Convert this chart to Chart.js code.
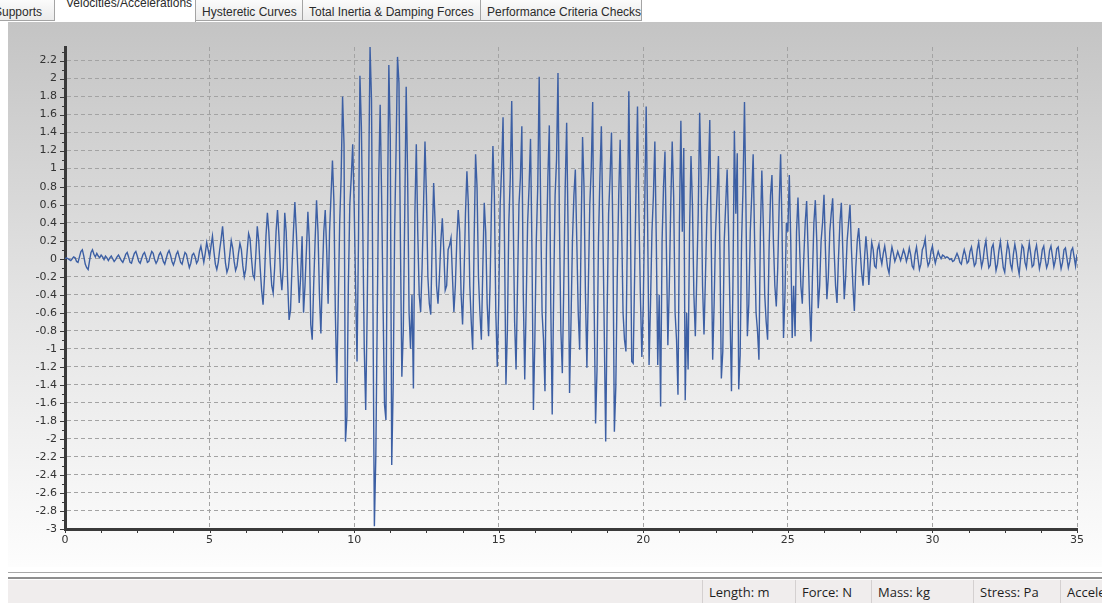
<!DOCTYPE html>
<html>
<head>
<meta charset="utf-8">
<script src="https://cdn.jsdelivr.net/npm/chart.js@4.4.1/dist/chart.umd.min.js"></script>
<style>
  html, body { margin: 0; padding: 0; width: 1102px; height: 603px; overflow: hidden; background: #fff; font-family: "Liberation Sans", Arial, sans-serif; }
  #tabs { position: absolute; left: 0; top: 0; width: 1102px; height: 22px; background: #fff; }
  .tab { position: absolute; top: 0; height: 21px; box-sizing: border-box; border-right: 1px solid #a4a4a4; border-bottom: 1px solid #a4a4a4;
         background: linear-gradient(#fbfbfb, #ebebeb); font-size: 12px; color: #2b2b2b; line-height: 25px; white-space: nowrap; overflow: hidden; padding-left: 6px; }
  .tab.active { background: #fff; line-height: 7px; border-bottom: none; height: 22px; }
  #panel { position: absolute; left: 8px; top: 22px; width: 1094px; height: 545px; background: linear-gradient(#c4c4c4, #e3e3e3 50%, #fdfdfd); }
  #chart { position: absolute; left: 0; top: 0; }
  #sep1 { position: absolute; left: 8px; top: 572px; width: 1094px; height: 1px; background: #a8a8a8; }
  #sep2 { position: absolute; left: 8px; top: 577px; width: 1094px; height: 2px; background: #8e8e8e; }
  #status { position: absolute; left: 8px; top: 580px; width: 1094px; height: 23px; background: #f0eded; font-family: "Open Sans", sans-serif; font-size: 13px; color: #1e1e1e; }
  .cell { position: absolute; top: 0; height: 23px; line-height: 24px; border-left: 1px solid #d4d0d0; padding-left: 6px; white-space: nowrap; overflow: hidden; }
</style>
</head>
<body>
<div id="tabs">
  <div class="tab" style="left:-12px;width:67px;">Supports</div>
  <div class="tab active" style="left:55px;width:141px;padding-left:11px;">Velocities/Accelerations</div>
  <div class="tab" style="left:196px;width:107px;">Hysteretic Curves</div>
  <div class="tab" style="left:303px;width:178px;">Total Inertia &amp; Damping Forces</div>
  <div class="tab" style="left:481px;width:161px;">Performance Criteria Checks</div>
</div>
<div id="panel"><canvas id="chart" width="1094" height="545"></canvas></div>
<div id="sep1"></div>
<div id="sep2"></div>
<div id="status">
  <div class="cell" style="left:694px;width:76px;">Length: m</div>
  <div class="cell" style="left:787px;width:76px;">Force: N</div>
  <div class="cell" style="left:863px;width:96px;">Mass: kg</div>
  <div class="cell" style="left:965px;width:87px;">Stress: Pa</div>
  <div class="cell" style="left:1052px;width:50px;">Acceleration</div>
</div>

<script>
// sampled acceleration trace, dt = 0.05 s, one array per 5 s block
const dt = 0.05;

const accel00 = [
  0, 0.01, 0, -0.01, -0.02, 0, 0.02, 0.01, -0.03, -0.04,
  0.02, 0.08, 0.1, 0.03, -0.06, -0.1, -0.12, -0.02, 0.07, 0.1,
  0.05, 0.02, 0.06, 0.03, 0.01, 0.04, 0.02, -0.01, 0.03, 0.01,
  -0.02, 0.01, 0.03, 0, -0.03, -0.01, 0.02, 0.04, 0.01, -0.02,
  -0.04, 0, 0.05, 0.07, 0.02, -0.04, -0.05, 0.01, 0.06, 0.08,
  0.03, -0.03, -0.05, 0, 0.05, 0.07, 0.02, -0.04, -0.03, 0.03,
  0.08, 0.06, -0.01, -0.05, -0.02, 0.04, 0.07, 0.03, -0.03, -0.06,
  0, 0.06, 0.09, 0.04, -0.03, -0.07, -0.02, 0.05, 0.08, 0.02,
  -0.04, -0.06, 0.01, 0.07, 0.05, -0.03, -0.1, -0.05, 0.04, 0.06,
  0.02, -0.05, -0.02, 0.08, 0.14, 0.05, -0.04, 0.06, 0.18, 0.1
];
const accel05 = [
  0.02, 0.14, 0.25, 0.08, -0.06, -0.12, -0.04, 0.1, 0.22, 0.36,
  0.15, -0.05, -0.15, -0.1, 0.05, 0.2, 0.12, -0.03, -0.13, -0.08,
  0.06, 0.17, 0.1, -0.08, -0.2, -0.12, 0.08, 0.28, 0.22, 0.0,
  -0.18, -0.22, 0.05, 0.36, 0.2, -0.1, -0.35, -0.51, -0.2, 0.25,
  0.51, 0.3, -0.05, -0.3, -0.38, -0.1, 0.3, 0.54, 0.25, -0.15,
  -0.35, -0.1, 0.51, 0.3, -0.25, -0.68, -0.57, -0.1, 0.3, 0.63,
  0.3, -0.1, -0.49, -0.2, 0.25, -0.6, -0.3, 0.1, 0.52, 0.2,
  -0.73, -0.9, -0.3, 0.2, 0.65, 0.3, -0.4, -0.83, -0.2, 0.3,
  0.54, 0.1, -0.5, 0.3, 0.7, 1.09, 0.64, -0.6, -1.38, -0.5,
  0.4, 0.9, 1.8, 1.27, -2.03, -1.75, -0.3, 0.6, 0.9, 1.27
];
const accel10 = [
  0.6, -0.3, -1.14, 0.2, 2.03, 1.47, 0.3, -1.0, -1.68, -0.6,
  0.8, 2.35, 1.77, -0.5, -2.97, -2.18, -0.6, 0.9, 1.71, 0.7,
  -0.5, -1.62, -1.79, 0.4, 2.15, 1.34, -2.29, -1.42, 0.3, 1.2,
  2.24, 1.95, 0.2, -1.31, -0.8, 0.5, 1.91, 0.9, -0.6, -1.0,
  -0.4, -1.44, 0.5, 1.27, 0.3, -0.4, -0.59, -0.1, 0.6, 1.3,
  0.7, -0.2, -0.5, -0.62, 0.2, 0.84, 0.4, -0.3, -0.5, -0.2,
  0.2, 0.45, 0.1, -0.35, -0.3, 0.1, 0.15, 0.23, -0.2, -0.59,
  -0.3, 0.2, 0.54, 0.3, -0.4, -0.73, -0.2, 0.5, 0.97, 0.6,
  -0.3, -0.7, -1.01, 0.2, 1.16, 0.8, -0.2, -0.6, -0.9, -0.1,
  0.62, 0.3, -0.5, -0.86, -0.3, 0.6, 1.25, 0.7, -0.6, -1.2
];
const accel15 = [
  -0.5, 0.6, 1.0, 1.57, 0.2, -1.4, -0.8, 0.4, 0.9, 1.75,
  0.5, -0.7, -1.23, -0.3, 0.6, 0.9, 1.47, -0.4, -1.34, -0.5,
  0.4, 0.8, 1.33, 0.1, -1.68, -0.9, 0.2, 0.8, 2.02, 0.6,
  -0.6, -0.9, -1.47, 0.1, 0.9, 1.48, -0.5, -1.73, -0.4, 0.7,
  1.1, 2.06, 0.4, -0.8, -1.27, -0.3, 0.8, 1.51, 0.3, -1.49,
  -0.7, 0.2, 0.7, 0.99, 0.2, -0.6, -1.01, 0.3, 1.35, 0.8,
  -0.4, -1.21, -0.3, 0.6, 1.0, 1.74, -0.5, -1.83, -1.23, 0.2,
  0.9, 1.47, 0.4, -0.8, -2.03, -0.6, 0.5, 0.9, 1.4, 0.2,
  -1.92, -1.42, -0.2, 0.7, 1.32, 0.4, -0.6, -0.9, -1.03, 0.3,
  1.86, 0.6, -1.14, -1.16, -0.2, 0.8, 1.69, 0.5, -0.4, -1.09
];
const accel20 = [
  -0.5, 0.6, 1.69, 0.4, -1.18, -0.5, 0.3, 0.7, 1.3, 0.2,
  -1.18, -0.4, -1.64, 0.2, 0.8, 1.19, 0.1, -0.96, -0.3, 0.6,
  1.3, 0.7, -0.6, -0.9, -1.51, 0.4, 1.53, 0.3, 1.23, -1.57,
  -0.6, -1.23, 0.3, 1.14, 0.6, -0.4, -0.86, -0.2, 0.5, 1.62,
  0.9, -0.3, -0.84, -0.2, 0.5, 0.9, 1.54, 0.2, -1.12, -0.5,
  0.3, 0.7, 1.14, 0.1, -1.33, -1.03, 0.2, 0.6, 0.99, 0.3,
  -0.6, -1.47, -0.3, 1.42, 0.5, 1.17, -1.45, -1.07, 0.2, 0.8,
  1.74, 0.6, -0.86, -0.5, 0.3, 0.7, 1.16, 0.2, -0.6, -0.8,
  -1.12, 0.3, 0.98, 0.4, -0.4, -0.7, -0.9, 0.1, 0.7, 0.93,
  0.2, -0.3, -0.53, -0.1, 0.6, 1.16, 0.3, -0.88, -0.4, 0.4
];
const accel25 = [
  0.3, 0.93, 0.2, -0.88, -0.3, -0.86, 0.3, 0.68, 0.2, -0.3,
  -0.5, 0.0, 0.4, 0.64, 0.1, -0.5, -0.92, -0.2, 0.4, 0.65,
  0.2, -0.55, -0.3, 0.2, 0.4, 0.71, 0.1, -0.45, -0.2, 0.3,
  0.5, 0.67, 0.1, -0.3, -0.49, 0.0, 0.4, 0.62, 0.1, -0.45,
  -0.2, 0.2, 0.4, 0.6, 0.1, -0.3, -0.58, -0.1, 0.2, 0.34,
  0.1, -0.15, -0.3, 0.0, 0.25, 0.05, -0.29, -0.05, 0.18, 0.1,
  -0.08, -0.1, 0.1, 0.16, 0.02, -0.06, 0.06, 0.14, 0.03, -0.1,
  -0.16, 0.02, 0.13, 0.06, -0.03, 0.02, 0.08, 0.03, -0.02, 0.04,
  0.1, 0.05, -0.03, 0.03, 0.12, 0.04, -0.08, -0.11, 0.05, 0.13,
  0.0, -0.12, -0.06, 0.1, 0.14, 0.22, 0.02, -0.08, -0.04, 0.08
];
const accel30 = [
  0.14, 0.03, -0.05, 0.02, 0.08, 0.03, 0.0, 0.04, 0.03, 0.01,
  0.02, 0.01, -0.01, 0.0, -0.03, -0.02, 0.02, 0.06, 0.02, -0.04,
  -0.06, 0.03, 0.1, 0.04, -0.05, -0.03, 0.08, 0.13, 0.02, -0.08,
  -0.05, 0.1, 0.18, 0.04, -0.09, -0.02, 0.12, 0.2, 0.03, -0.1,
  -0.07, 0.12, 0.16, 0.02, -0.13, -0.06, 0.09, 0.19, 0.05, -0.1,
  -0.15, 0.03, 0.17, 0.1, -0.06, -0.12, 0.05, 0.16, 0.07, -0.08,
  -0.17, 0.0, 0.15, 0.12, -0.04, -0.1, 0.06, 0.17, 0.05, -0.09,
  -0.07, 0.08, 0.15, 0.02, -0.11, -0.03, 0.1, 0.14, 0.0, -0.1,
  -0.05, 0.09, 0.14, 0.03, -0.09, -0.02, 0.11, 0.13, 0.0, -0.11,
  -0.04, 0.1, 0.12, 0.01, -0.1, -0.03, 0.09, 0.12, 0.02, -0.08,
  0.05
];

const blocks = [accel00, accel05, accel10, accel15, accel20, accel25, accel30];
const blockStart = [0, 5, 10, 15, 20, 25, 30];

const yMin = -3, yMax = 2.35, yStep = 0.2;
const xMin = 0, xMax = 35, xStep = 5, xMinorStep = 1.25;

const points = [];
blocks.forEach((vals, b) => {
  vals.forEach((v, i) => points.push({ x: +(blockStart[b] + i * dt).toFixed(2), y: v }));
});

// small tick marks on both axes
const axisTicks = {
  id: 'axisTicks',
  afterDraw(chart) {
    const { ctx, scales: { x, y } } = chart;
    ctx.save();
    ctx.strokeStyle = '#3a3a3a';
    ctx.lineWidth = 1;
    ctx.beginPath();
    for (let v = yMin; v <= yMax + 1e-9; v += yStep / 2) {
      const py = Math.round(y.getPixelForValue(v)) + 0.5;
      const len = Math.abs(Math.round(v / yStep) * yStep - v) < 1e-6 ? 4 : 2;
      ctx.moveTo(x.left - len - 1, py);
      ctx.lineTo(x.left, py);
    }
    for (let v = xMin; v <= xMax + 1e-9; v += xMinorStep) {
      const px = Math.round(x.getPixelForValue(v)) + 0.5;
      ctx.moveTo(px, y.bottom);
      ctx.lineTo(px, y.bottom + 4);
    }
    ctx.stroke();
    ctx.restore();
  }
};

new Chart(document.getElementById('chart'), {
  type: 'line',
  data: {
    datasets: [{
      data: points,
      borderColor: '#3c5fa4',
      borderWidth: 1.4,
      pointRadius: 0,
      tension: 0,
      fill: false
    }]
  },
  options: {
    responsive: false,
    animation: false,
    devicePixelRatio: 1,
    layout: { padding: { top: 25, right: 25, left: 0, bottom: 0 } },
    plugins: { legend: { display: false }, tooltip: { enabled: false } },
    scales: {
      x: {
        type: 'linear',
        min: xMin,
        max: xMax,
        ticks: { stepSize: xStep, color: '#333', padding: 5, font: { family: 'DejaVu Sans', size: 11 } },
        grid: { color: '#a3a3a3', lineWidth: 1, drawTicks: false },
        border: { display: true, color: '#3a3a3a', width: 3, dash: [4, 3] },
        afterFit(scale) { scale.height = 38; }
      },
      y: {
        type: 'linear',
        min: yMin,
        max: yMax,
        ticks: {
          stepSize: yStep,
          includeBounds: false,
          color: '#333',
          padding: 8,
          font: { family: 'DejaVu Sans', size: 11 },
          callback: v => String(+v.toFixed(1))
        },
        grid: { color: '#a3a3a3', lineWidth: 1, drawTicks: false },
        border: { display: true, color: '#3a3a3a', width: 3, dash: [4, 3] },
        afterFit(scale) { scale.width = 57; }
      }
    }
  },
  plugins: [axisTicks]
});
</script>
</body>
</html>
